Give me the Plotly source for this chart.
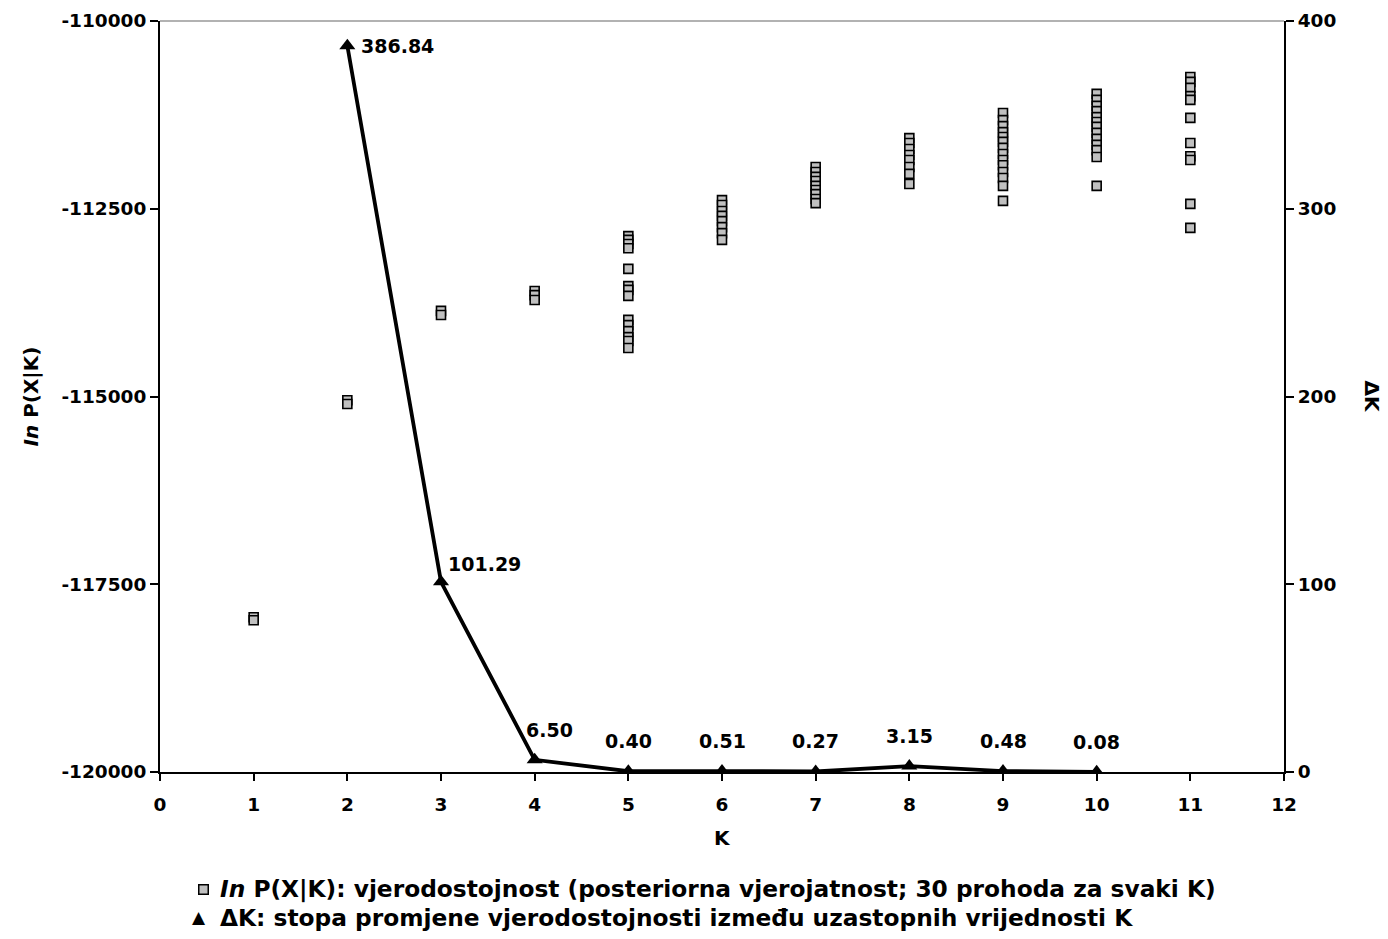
import plotly.graph_objects as go

# ---------------- data ----------------
k_values = [1, 2, 3, 4, 5, 6, 7, 8, 9, 10, 11]
lnp_runs = {
    1: [-117940, -117980],
    2: [-115050, -115100],
    3: [-113860, -113915],
    4: [-113595, -113650, -113715],
    5: [-112865, -112915, -112970, -113025, -113300, -113530, -113580, -113660,
        -113980, -114050, -114130, -114210, -114260, -114355],
    6: [-112385, -112450, -112530, -112595, -112665, -112745, -112825, -112915],
    7: [-111945, -112010, -112075, -112130, -112195, -112250, -112305, -112370, -112425],
    8: [-111560, -111625, -111705, -111785, -111850, -111945, -112035, -112170],
    9: [-111225, -111320, -111400, -111480, -111545, -111610, -111690, -111770,
        -111850, -111920, -112010, -112090, -112195, -112395],
    10: [-110970, -111050, -111130, -111200, -111280, -111345, -111410, -111490,
         -111570, -111650, -111720, -111810, -112195],
    11: [-110745, -110810, -110890, -111000, -111050, -111290, -111625, -111800,
         -111850, -112435, -112755],
}
dk_k = [2, 3, 4, 5, 6, 7, 8, 9, 10]
dk_values = [386.84, 101.29, 6.50, 0.40, 0.51, 0.27, 3.15, 0.48, 0.08]
dk_labels = ["386.84", "101.29", "6.50", "0.40", "0.51", "0.27", "3.15", "0.48", "0.08"]

x_ticks = list(range(0, 13))
left_ticks = [-120000, -117500, -115000, -112500, -110000]
right_ticks = [0, 100, 200, 300, 400]

legend_lnp = "<i>In</i> P(X|K): vjerodostojnost (posteriorna vjerojatnost; 30 prohoda za svaki K)"
legend_dk = "ΔK: stopa promjene vjerodostojnosti između uzastopnih vrijednosti K"

FONT = "DejaVu Sans, sans-serif"
SQ_FILL = "#c0c0c0"

xs, ys = [], []
for k in k_values:
    for v in lnp_runs[k]:
        xs.append(k)
        ys.append(v)

fig = go.Figure()

sq_marker = dict(symbol="square", size=9, color=SQ_FILL,
                 line=dict(color="#000000", width=1.6))
tri_marker = dict(symbol="triangle-up", size=14, color="#000000")

fig.add_trace(go.Scatter(x=xs, y=ys, mode="markers", marker=sq_marker,
                         name="In P(X|K)", showlegend=False, yaxis="y"))
fig.add_trace(go.Scatter(x=dk_k, y=dk_values, mode="lines+markers",
                         line=dict(color="#000000", width=3.8), name="ΔK",
                         marker=tri_marker, showlegend=False, yaxis="y2"))

# value labels for ΔK
for i, (k, v, lab) in enumerate(zip(dk_k, dk_values, dk_labels)):
    if i == 0:
        ann = dict(xanchor="left", yanchor="middle", xshift=12, yshift=0)
    elif i == 1:
        ann = dict(xanchor="left", yanchor="middle", xshift=5, yshift=18)
    elif i == 2:
        ann = dict(xanchor="center", yanchor="middle", xshift=15, yshift=30)
    else:
        ann = dict(xanchor="center", yanchor="middle", xshift=0, yshift=30)
    fig.add_annotation(x=k, y=v, xref="x", yref="y2", text=lab, showarrow=False,
                       font=dict(family=FONT, size=19, color="#000000", weight="bold"),
                       **ann)

title_font = dict(family=FONT, size=20, color="#000000", weight="bold")

# right axis title (reads top-to-bottom)
fig.add_annotation(x=1.0, y=0.5, xref="paper", yref="paper", xshift=88,
                   xanchor="center", yanchor="middle",
                   text="ΔK", textangle=90, showarrow=False, font=title_font)
# left axis title
fig.add_annotation(x=0.0, y=0.5, xref="paper", yref="paper", xshift=-130,
                   xanchor="center", yanchor="middle",
                   text="<i>In</i> P(X|K)", textangle=-90, showarrow=False,
                   font=title_font)
# x axis title
fig.add_annotation(x=0.5, y=0.0, xref="paper", yref="paper", yshift=-66,
                   xanchor="center", yanchor="middle",
                   text="K", showarrow=False, font=title_font)

# legend (drawn as annotations below the plot)
leg_font = dict(family=FONT, size=23.3, color="#000000", weight="bold")
fig.add_annotation(x=0, y=0, xref="paper", yref="paper", xshift=43, yshift=-117,
                   xanchor="center", yanchor="middle", text=" ", showarrow=False,
                   width=8, height=8, bgcolor=SQ_FILL, bordercolor="#000000",
                   borderwidth=1.5, borderpad=0, font=dict(size=5))
fig.add_annotation(x=0, y=0, xref="paper", yref="paper", xshift=58, yshift=-117,
                   xanchor="left", yanchor="middle", text=legend_lnp,
                   showarrow=False, font=leg_font)
fig.add_annotation(x=0, y=0, xref="paper", yref="paper", xshift=39, yshift=-145,
                   xanchor="center", yanchor="middle", text="▲",
                   showarrow=False, font=dict(family=FONT, size=17, color="#000000"))
fig.add_annotation(x=0, y=0, xref="paper", yref="paper", xshift=58, yshift=-145,
                   xanchor="left", yanchor="middle", text=legend_dk,
                   showarrow=False, font=leg_font)

# light top frame line
fig.add_shape(type="line", xref="paper", yref="paper", x0=0, x1=1, y0=1, y1=1,
              line=dict(color="#999999", width=1.5))

axis_font = dict(family=FONT, size=18.5, color="#000000", weight="bold")

fig.update_layout(
    width=1388, height=939,
    margin=dict(l=152, r=112, t=13, b=175, autoexpand=False),
    plot_bgcolor="#ffffff", paper_bgcolor="#ffffff",
    font=dict(family=FONT, color="#000000", weight="bold"),
    showlegend=False,
    xaxis=dict(range=[0, 12], tickvals=x_ticks, ticks="outside", ticklen=7,
               tickwidth=2, tickcolor="#000000", showline=True, linecolor="#000000",
               linewidth=2, showgrid=False, zeroline=False, tickfont=axis_font,
               ticklabelstandoff=8, automargin=False),
    yaxis=dict(range=[-120000, -110000], tickvals=left_ticks,
               ticktext=[str(t) for t in left_ticks],
               ticks="outside", ticklen=8, tickwidth=2, tickcolor="#000000",
               showline=True, linecolor="#000000", linewidth=2, showgrid=False,
               zeroline=False, tickfont=axis_font, automargin=False),
    yaxis2=dict(range=[0, 400], tickvals=right_ticks, overlaying="y", side="right",
                ticks="outside", ticklen=8, tickwidth=2, tickcolor="#000000",
                showline=True, linecolor="#000000", linewidth=2, showgrid=False,
                zeroline=False, tickfont=axis_font, automargin=False),
)

fig.write_html("out.html")
